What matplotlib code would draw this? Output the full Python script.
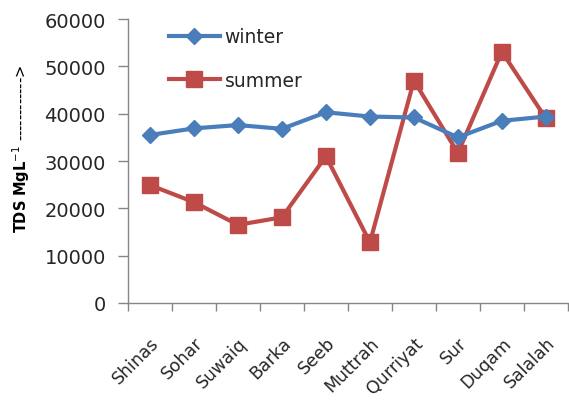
import matplotlib
matplotlib.use("Agg")
import matplotlib.pyplot as plt
import numpy as np

sites = ["Shinas", "Sohar", "Suwaiq", "Barka", "Seeb", "Muttrah",
         "Qurriyat", "Sur", "Duqam", "Salalah"]
winter = [35500, 36900, 37600, 36800, 40300, 39400, 39200, 35000, 38500, 39400]
summer = [24900, 21300, 16500, 18100, 31000, 12800, 47000, 31700, 53100, 39000]
yticks = [0, 10000, 20000, 30000, 40000, 50000, 60000]

blue = "#4A7EBB"
red = "#BE4B48"
axis_gray = "#868686"
text_col = "#262626"

plt.rcParams["mathtext.fontset"] = "dejavusans"

fig = plt.figure(figsize=(5.69, 4.02), dpi=100)
ax = fig.add_axes([0.225, 0.244, 0.773, 0.706])

x = np.arange(len(sites))
ax.plot(x, winter, color=blue, lw=3, marker="D", ms=8,
        markerfacecolor=blue, markeredgecolor=blue, label="winter", zorder=3)
ax.plot(x, summer, color=red, lw=3, marker="s", ms=12,
        markerfacecolor=red, markeredgecolor=red, label="summer", zorder=2)

ax.set_xlim(-0.5, len(sites) - 0.5)
ax.set_ylim(0, 60000)
ax.set_yticks(yticks)
ax.set_yticklabels([str(v) for v in yticks], fontsize=14, color=text_col)

# category labels centred on each point, tick marks on the boundaries
ax.set_xticks(x)
ax.set_xticklabels(sites, rotation=45, ha="right", rotation_mode="anchor",
                   fontsize=12.5, color=text_col)
ax.tick_params(axis="x", which="major", length=0, pad=22)
ax.set_xticks(np.arange(-0.5, len(sites), 1), minor=True)
ax.tick_params(axis="x", which="minor", length=6, color=axis_gray, width=1)
ax.tick_params(axis="y", length=7, color=axis_gray, width=1, pad=9)

for s in ["top", "right"]:
    ax.spines[s].set_visible(False)
for s in ["left", "bottom"]:
    ax.spines[s].set_color(axis_gray)
    ax.spines[s].set_linewidth(1)

fig.text(21 / 569, 1 - 149 / 402,
         r"$\mathbf{TDS\ MgL}^{\mathrm{-1}}$ ------------>",
         rotation=90, ha="center", va="center", fontsize=10.5, color="black")

leg = ax.legend(loc="upper left", bbox_to_anchor=(0.054, 1.03), frameon=False,
                fontsize=13.5, handlelength=2.72, labelspacing=1.3,
                handletextpad=0.27)
for t in leg.get_texts():
    t.set_color(text_col)

fig.savefig("out.png", dpi=100)
